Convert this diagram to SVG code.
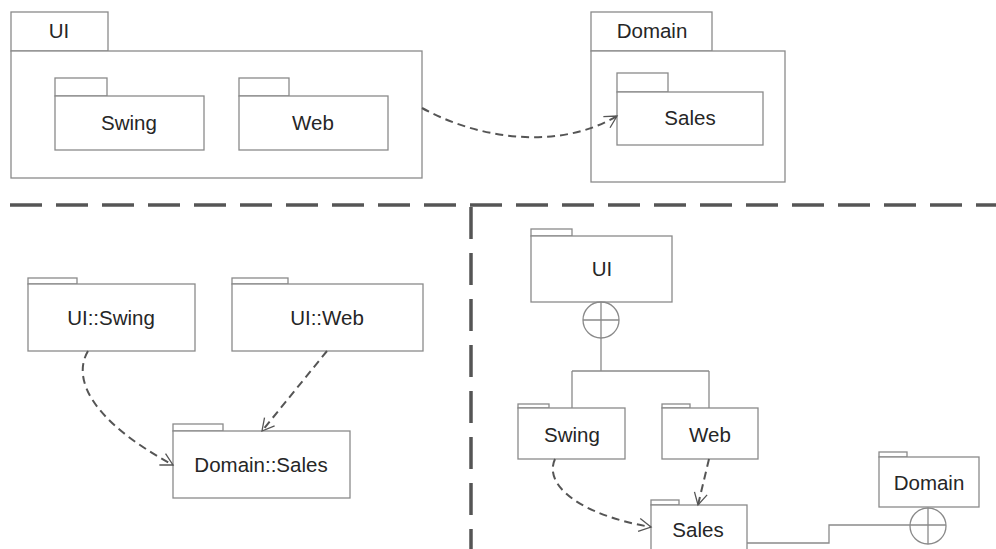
<svg xmlns="http://www.w3.org/2000/svg" width="996" height="549" viewBox="0 0 996 549">
<style>
.box{fill:#fff;stroke:#8a8a8a;stroke-width:1.3}
.lbl{font-family:"Liberation Sans",Arial,sans-serif;font-size:20.5px;fill:#262626;text-anchor:middle}
.dep{fill:none;stroke:#555;stroke-width:2;stroke-dasharray:8 5}
.line{fill:none;stroke:#8a8a8a;stroke-width:1.3}
.div{fill:none;stroke:#555;stroke-width:3.5;stroke-dasharray:32 14}
</style>
<defs>
<marker id="open" markerWidth="15" markerHeight="15" refX="13" refY="7.5" orient="auto" markerUnits="userSpaceOnUse">
<path d="M1,1 L13,7.5 L1,14" fill="none" stroke="#555" stroke-width="1.3"/>
</marker>
</defs>

<g id="dividers">
<line class="div" x1="10" y1="205" x2="996" y2="205"/>
<line class="div" x1="471" y1="207" x2="471" y2="549"/>
</g>

<g id="pkg-UI-top">
<rect class="box" x="11" y="12" width="97" height="39"/>
<rect class="box" x="11" y="51" width="411" height="127"/>
<text class="lbl" x="59" y="38">UI</text>
</g>
<g id="pkg-Swing-top">
<rect class="box" x="55" y="78" width="52" height="18"/>
<rect class="box" x="55" y="96" width="149" height="54"/>
<text class="lbl" x="129" y="130">Swing</text>
</g>
<g id="pkg-Web-top">
<rect class="box" x="239" y="78" width="50" height="18"/>
<rect class="box" x="239" y="96" width="149" height="54"/>
<text class="lbl" x="313" y="130">Web</text>
</g>
<g id="pkg-Domain-top">
<rect class="box" x="591" y="12" width="121" height="39"/>
<rect class="box" x="591" y="51" width="194" height="131"/>
<text class="lbl" x="652" y="38">Domain</text>
</g>
<g id="pkg-Sales-top">
<rect class="box" x="617" y="73" width="51" height="19"/>
<rect class="box" x="617" y="92" width="146" height="53"/>
<text class="lbl" x="690" y="125">Sales</text>
</g>

<g id="pkg-UISwing">
<rect class="box" x="28" y="278" width="49" height="6"/>
<rect class="box" x="28" y="284" width="167" height="67"/>
<text class="lbl" x="111" y="325">UI::Swing</text>
</g>
<g id="pkg-UIWeb">
<rect class="box" x="232" y="278" width="56" height="6"/>
<rect class="box" x="232" y="284" width="191" height="67"/>
<text class="lbl" x="327" y="325">UI::Web</text>
</g>
<g id="pkg-DomainSales">
<rect class="box" x="173" y="424" width="50" height="7"/>
<rect class="box" x="173" y="431" width="177" height="67"/>
<text class="lbl" x="261" y="472">Domain::Sales</text>
</g>

<g id="pkg-UI-br">
<rect class="box" x="531" y="229" width="41" height="7"/>
<rect class="box" x="531" y="236" width="141" height="66"/>
<text class="lbl" x="602" y="276">UI</text>
</g>
<g id="pkg-Swing-br">
<rect class="box" x="518" y="404" width="31" height="4"/>
<rect class="box" x="518" y="408" width="107" height="51"/>
<text class="lbl" x="572" y="442">Swing</text>
</g>
<g id="pkg-Web-br">
<rect class="box" x="662" y="404" width="28" height="4"/>
<rect class="box" x="662" y="408" width="96" height="51"/>
<text class="lbl" x="710" y="442">Web</text>
</g>
<g id="pkg-Sales-br">
<rect class="box" x="651" y="500" width="28" height="5"/>
<rect class="box" x="651" y="505" width="96" height="60"/>
<text class="lbl" x="698" y="537">Sales</text>
</g>
<g id="pkg-Domain-br">
<rect class="box" x="879" y="452" width="28" height="5"/>
<rect class="box" x="879" y="457" width="100" height="50"/>
<text class="lbl" x="929" y="490">Domain</text>
</g>

<g id="connectors">
<path class="dep" d="M422,108 C480,140 560,150 617,116" marker-end="url(#open)"/>
<path class="dep" d="M88,351 C72,378 90,420 173,465" marker-end="url(#open)"/>
<path class="dep" d="M327,351 L262,431" marker-end="url(#open)"/>
<path class="dep" d="M555,459 C543,485 580,515 651,527" marker-end="url(#open)"/>
<path class="dep" d="M709,459 L698,505" marker-end="url(#open)"/>

<circle class="line" cx="601" cy="320" r="18"/>
<line class="line" x1="583" y1="320" x2="619" y2="320"/>
<path class="line" d="M601,302 L601,371 M572,371 L709,371 M572,371 L572,408 M709,371 L709,408"/>

<circle class="line" cx="928" cy="526" r="18"/>
<line class="line" x1="928" y1="508" x2="928" y2="544"/>
<path class="line" d="M747,543 L829,543 L829,525 L946,525"/>
</g>
</svg>
